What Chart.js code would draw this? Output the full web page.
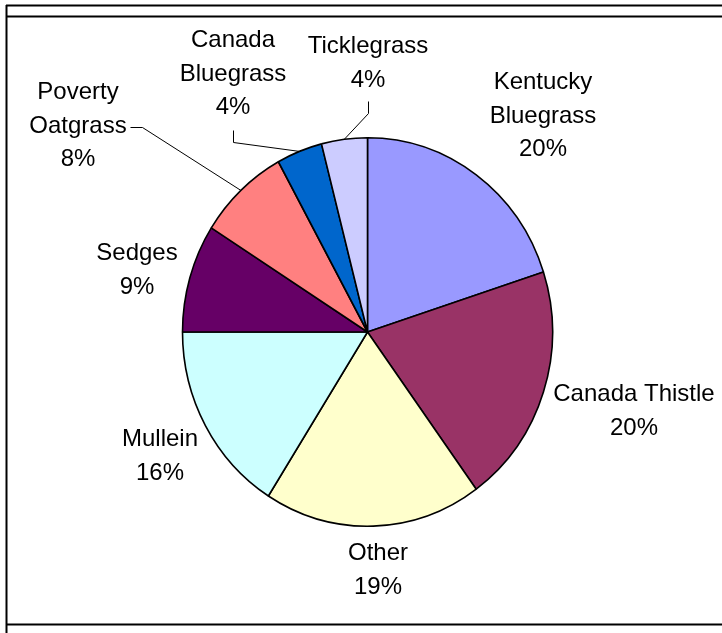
<!DOCTYPE html>
<html>
<head>
<meta charset="utf-8">
<script src="https://cdn.jsdelivr.net/npm/chart.js@4/dist/chart.umd.min.js"></script>
<style>
    html, body { margin: 0; padding: 0; background: #fff; }
    #grafico-especies { display: block; }
</style>
</head>
<body>
<canvas id="grafico-especies" width="722" height="633"></canvas>
<script>
// Species composition (share of cover)
const especies = ['Kentucky Bluegrass', 'Canada Thistle', 'Other', 'Mullein', 'Sedges', 'Poverty Oatgrass', 'Canada Bluegrass', 'Ticklegrass'];
const percentuais = [20, 20, 19, 16, 9, 8, 4, 4];
const cores = ['#9999FF', '#993366', '#FFFFCC', '#CCFFFF', '#660066', '#FF8080', '#0066CC', '#CCCCFF'];

// How each name wraps in its label
const linhasRotulo = [
    ['Kentucky', 'Bluegrass'],
    ['Canada Thistle'],
    ['Other'],
    ['Mullein'],
    ['Sedges'],
    ['Poverty', 'Oatgrass'],
    ['Canada', 'Bluegrass'],
    ['Ticklegrass']
];

// Label placement: x = text centre, y = first baseline; leader = optional elbow line
const posRotulo = [
    { x: 543, y: 89 },
    { x: 634, y: 401 },
    { x: 378, y: 560 },
    { x: 160, y: 446 },
    { x: 137, y: 260 },
    { x: 78, y: 99, guia: [[130, 127], [142, 127]] },
    { x: 233, y: 47, guia: [[233, 130], [233, 142]] },
    { x: 368, y: 53, guia: [[368, 101], [368, 113]] }
];

const ALTURA_LINHA = 33.5;
const ESCALA_Y = 1.05; // the pie is drawn slightly taller than wide

// Frame around the chart
const moldura = {
    id: 'moldura',
    beforeDraw(chart) {
        const ctx = chart.ctx;
        ctx.save();
        ctx.fillStyle = '#fff';
        ctx.fillRect(0, 0, chart.width, chart.height);
        ctx.strokeStyle = '#000';
        ctx.lineWidth = 2;
        ctx.beginPath();
        ctx.moveTo(6.5, 5); ctx.lineTo(6.5, chart.height);
        ctx.moveTo(6, 5.5); ctx.lineTo(chart.width, 5.5);
        ctx.moveTo(6, 16.5); ctx.lineTo(chart.width, 16.5);
        ctx.moveTo(6, 624.5); ctx.lineTo(chart.width, 624.5);
        ctx.stroke();
        ctx.restore();
    }
};

// Stretch the pie vertically around its centre
const elipse = {
    id: 'elipse',
    beforeDatasetsDraw(chart) {
        const arco = chart.getDatasetMeta(0).data[0];
        const ctx = chart.ctx;
        ctx.save();
        ctx.translate(arco.x, arco.y);
        ctx.scale(1, ESCALA_Y);
        ctx.translate(-arco.x, -arco.y);
    },
    afterDatasetsDraw(chart) {
        chart.ctx.restore();
    }
};

// Category name + percent outside each slice, with leader lines for the small ones
const rotulos = {
    id: 'rotulos',
    afterDraw(chart) {
        const ctx = chart.ctx;
        const arcos = chart.getDatasetMeta(0).data;
        const total = percentuais.reduce((a, b) => a + b, 0);
        ctx.save();
        ctx.fillStyle = '#000';
        ctx.font = '24px "Liberation Sans", Arial, sans-serif';
        ctx.textAlign = 'center';
        ctx.textBaseline = 'alphabetic';

        arcos.forEach((arco, i) => {
            const pos = posRotulo[i];
            const texto = linhasRotulo[i].concat(Math.round(percentuais[i] / total * 100) + '%');
            texto.forEach((linha, j) => {
                ctx.fillText(linha, pos.x, pos.y + j * ALTURA_LINHA);
            });

            if (pos.guia) {
                const meio = (arco.startAngle + arco.endAngle) / 2;
                const px = arco.x + arco.outerRadius * Math.cos(meio);
                const py = arco.y + arco.outerRadius * Math.sin(meio) * ESCALA_Y;
                ctx.strokeStyle = '#000';
                ctx.lineWidth = 1;
                ctx.beginPath();
                ctx.moveTo(pos.guia[0][0] + 0.5, pos.guia[0][1] + 0.5);
                ctx.lineTo(pos.guia[1][0] + 0.5, pos.guia[1][1] + 0.5);
                ctx.lineTo(px, py);
                ctx.stroke();
            }
        });
        ctx.restore();
    }
};

new Chart(document.getElementById('grafico-especies').getContext('2d'), {
    type: 'pie',
    data: {
        labels: especies,
        datasets: [
            {
                data: percentuais,
                backgroundColor: cores,
                borderColor: '#000',
                borderWidth: 1.6,
                radius: 185
            }
        ]
    },
    options: {
        responsive: false,
        animation: false,
        events: [],
        layout: { padding: { left: 13, right: 0, top: 31, bottom: 0 } },
        plugins: {
            legend: { display: false },
            tooltip: { enabled: false }
        }
    },
    plugins: [moldura, elipse, rotulos]
});
</script>
</body>
</html>
